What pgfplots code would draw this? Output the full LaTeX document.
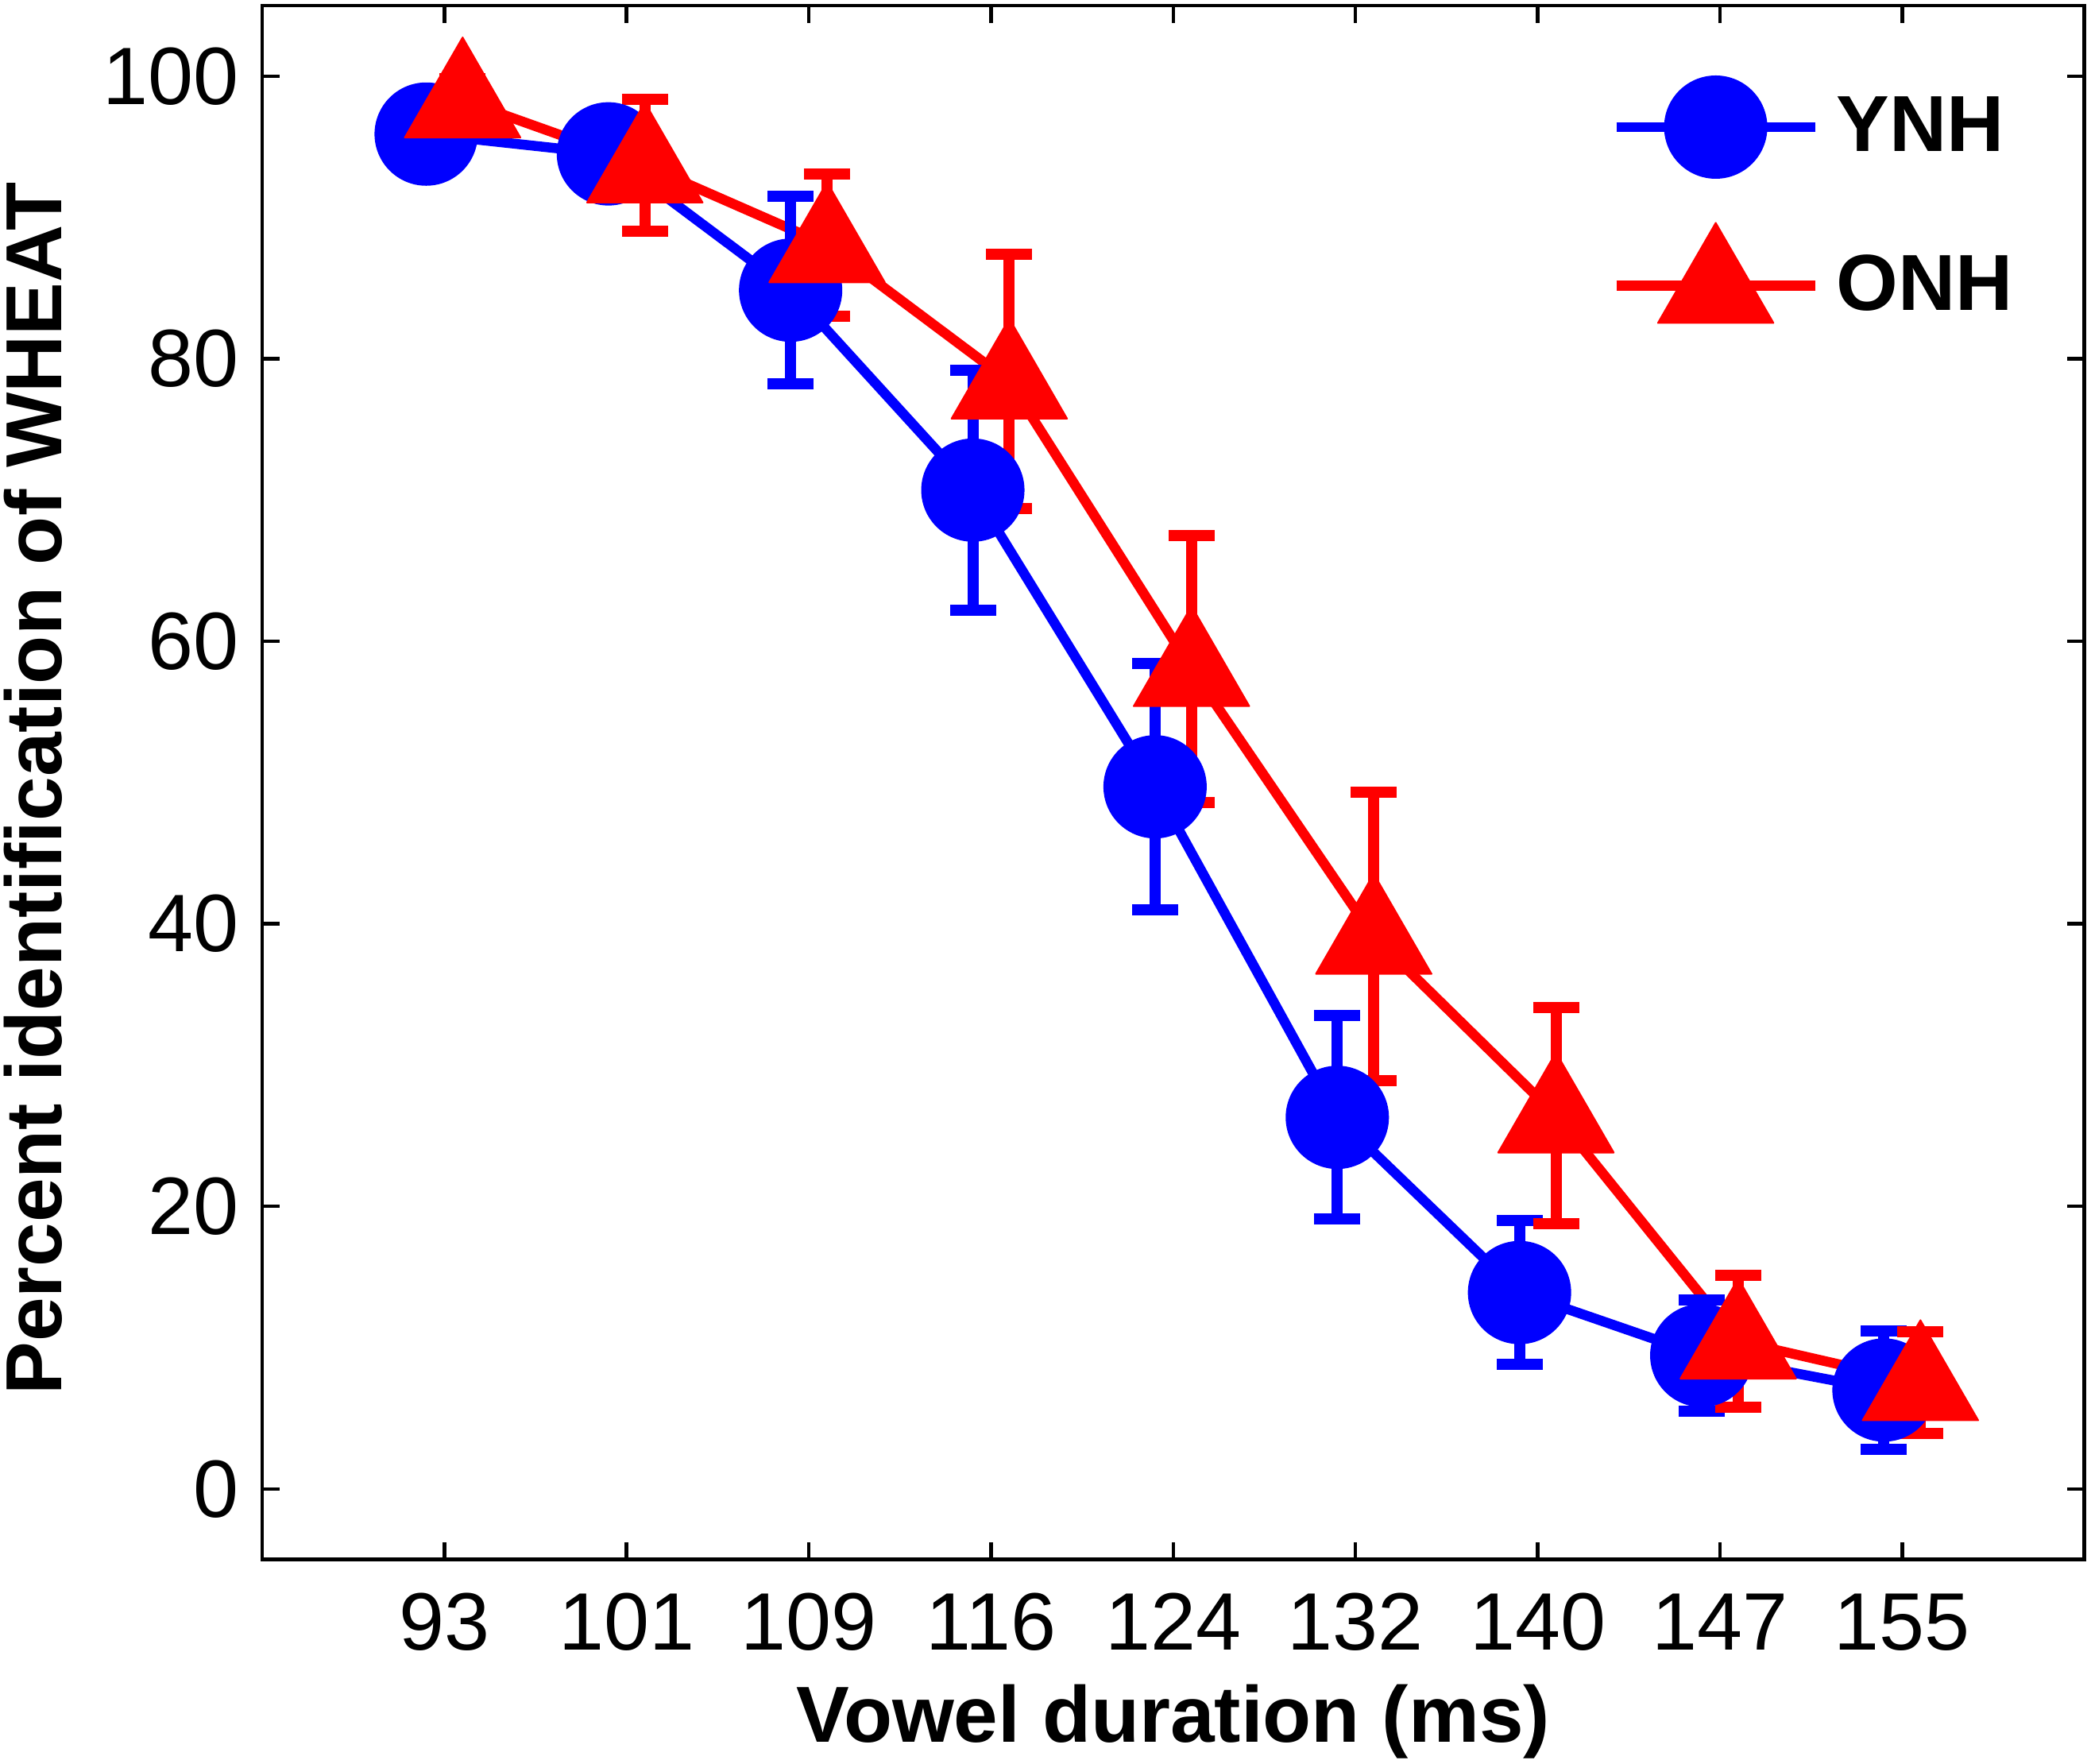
\documentclass[border=0pt]{standalone}
\usepackage{fontspec}
\setmainfont{Liberation Sans}
\usepackage{pgfplots}
\pgfplotsset{compat=1.18}
\definecolor{mblue}{RGB}{0,0,255}
\definecolor{mred}{RGB}{255,0,0}
\begin{document}
\begin{tikzpicture}
\begin{axis}[
  scale only axis,
  width=458.74pt, height=391.14pt,
  xmin=0, xmax=10, ymin=-5, ymax=105,
  xtick={1,2,3,4,5,6,7,8,9},
  xticklabels={93,101,109,116,124,132,140,147,155},
  ytick={0,20,40,60,80,100},
  tick align=inside,
  major tick length=4.4pt,
  axis line style={line width=0.9pt},
  every tick/.style={line width=0.9pt, black},
  /pgf/number format/assume math mode=true,
  tick label style={font=\fontsize{20.5}{22}\selectfont},
  xticklabel style={anchor=base, yshift=-22.8pt},
  yticklabel style={inner sep=0pt, xshift=-5.6pt},
  xlabel={Vowel duration (ms)},
  ylabel={Percent identification of WHEAT},
  label style={font=\fontsize{20}{22}\selectfont\bfseries},
  xlabel style={at={(axis description cs:0.5,-0.1175)}, anchor=base},
  ylabel style={at={(axis description cs:-0.1255,0.496)}, anchor=center},
  legend style={draw=none, fill=none, at={(axis description cs:0.740,0.955)}, anchor=north west,
    font=\fontsize{20}{22}\selectfont\bfseries, row sep=11.3pt, inner sep=0pt,
    /tikz/every odd column/.append style={column sep=2.2pt}},
  legend cell align=left,
  legend image code/.code={\draw[mark repeat=2,mark phase=2] plot coordinates {(0pt,0pt) (25pt,0pt) (50pt,0pt)};},
]
\addplot[mblue, line width=2.5pt, line join=round, mark=*, mark size=12.8pt, mark options={solid, line width=0.4pt, fill=mblue}]
  coordinates {(0.9,95.9) (1.9,94.5) (2.9,84.85) (3.9,70.7) (4.9,49.7) (5.9,26.3) (6.9,13.9) (7.9,9.45) (8.9,7.0)};
\addlegendentry{YNH}
\addplot[mred, line width=2.5pt, line join=round, mark=triangle*, mark size=16.8pt, mark options={solid, line width=0.4pt, fill=mred, yshift=-1pt}]
  coordinates {(1.1,98.3) (2.1,93.7) (3.1,88.05) (4.1,78.4) (5.1,58.05) (6.1,39.1) (7.1,26.45) (8.1,10.45) (9.1,7.5)};
\addlegendentry{ONH}
\addplot[draw=none, no markers, forget plot,
  error bars/.cd, y dir=both, y explicit,
  error bar style={line width=2.8pt, draw=mblue},
  error mark options={rotate=90, mark size=5.8pt, line width=2.8pt, draw=mblue}]
  coordinates {(0.9,95.9) +- (0,2.7) (1.9,94.5) +- (0,2.6) (2.9,84.85) +- (0,6.65) (3.9,70.7) +- (0,8.5) (4.9,49.7) +- (0,8.7) (5.9,26.3) +- (0,7.2) (6.9,13.9) +- (0,5.1) (7.9,9.45) +- (0,3.95) (8.9,7.0) +- (0,4.2)};
\addplot[draw=none, no markers, forget plot,
  error bars/.cd, y dir=both, y explicit,
  error bar style={line width=2.8pt, draw=mred},
  error mark options={rotate=90, mark size=5.8pt, line width=2.8pt, draw=mred}]
  coordinates {(1.1,98.3) +- (0,1.5) (2.1,93.7) +- (0,4.65) (3.1,88.05) +- (0,5.05) (4.1,78.4) +- (0,9.0) (5.1,58.05) +- (0,9.45) (6.1,39.1) +- (0,10.2) (7.1,26.45) +- (0,7.65) (8.1,10.45) +- (0,4.65) (9.1,7.5) +- (0,3.6)};
\end{axis}
\pgfresetboundingbox
\path ([shift={(-66pt,-51.26pt)}]current axis.south west) rectangle ([shift={(1.66pt,1.4pt)}]current axis.north east);
\end{tikzpicture}
\end{document}
